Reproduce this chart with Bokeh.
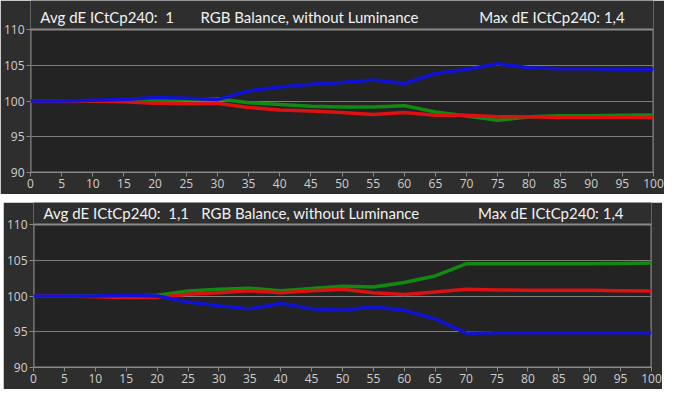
from bokeh.plotting import figure
from bokeh.models import FixedTicker
from bokeh.core.properties import value
from bokeh.layouts import column
from bokeh.embed import file_html
from bokeh.resources import INLINE

# gray levels (% of stimulus)
levels = [0, 5, 10, 15, 20, 25, 30, 35, 40, 45, 50, 55, 60, 65, 70, 75, 80, 85, 90, 95, 100]

# upper chart
top_red = [100, 100, 100, 99.9, 99.7, 99.6, 99.7, 99.1, 98.75, 98.6, 98.4, 98.1, 98.4, 98.0,
           98.0, 97.8, 97.8, 97.7, 97.7, 97.7, 97.7]
top_green = [100, 100, 100, 100, 100.1, 100.2, 100.3, 99.75, 99.5, 99.25, 99.15, 99.15, 99.35,
             98.45, 97.9, 97.3, 97.8, 97.95, 97.95, 98.0, 98.05]
top_blue = [100, 100, 100.1, 100.2, 100.5, 100.4, 100.2, 101.4, 101.95, 102.35, 102.6, 102.95,
            102.45, 103.85, 104.4, 105.2, 104.65, 104.5, 104.5, 104.45, 104.45]
top_avg = "Avg dE ICtCp240:\u00a0\u00a01"
top_max = "Max dE ICtCp240: 1,4"

# lower chart
bot_red = [100, 100, 99.9, 99.8, 99.8, 100.25, 100.45, 100.75, 100.45, 100.75, 100.95, 100.45,
           100.2, 100.55, 100.95, 100.85, 100.8, 100.8, 100.8, 100.75, 100.7]
bot_green = [100, 100, 100, 100, 100.1, 100.7, 100.95, 101.1, 100.75, 101.05, 101.35, 101.25,
             101.9, 102.8, 104.5, 104.5, 104.5, 104.5, 104.5, 104.55, 104.6]
bot_blue = [100, 100, 100, 100.1, 100, 99.15, 98.65, 98.2, 98.95, 98.2, 98.0, 98.5, 98.0,
            96.8, 94.8, 94.85, 94.85, 94.85, 94.85, 94.85, 94.85]
bot_avg = "Avg dE ICtCp240:\u00a0\u00a01,1"
bot_max = "Max dE ICtCp240: 1,4"

chart_title = "RGB Balance, without Luminance"
x_ticks = list(range(0, 101, 5))
y_ticks = [90, 95, 100, 105, 110]

FONT = "Open Sans"
TITLE_FONT = "Lato"
PANEL_BG = "#2e2e2e"
PLOT_BG = "#232323"
FRAME = "#8a8a8a"
PLOT_PX = 143      # height of the 90..110 plot area in pixels


def balance_chart(red, green, blue, avg_text, max_text, width, height,
                  border_left, border_right, band_px, title_px):
    # the frame is stretched upwards so the header texts live inside it
    frame_h = height - 22
    units_per_px = 20.0 / PLOT_PX
    y_top = 90 + frame_h * units_per_px
    title_y = 110 + (band_px - title_px) * units_per_px

    p = figure(width=width, height=height,
               x_range=(0, 100), y_range=(90, y_top),
               output_backend="svg", toolbar_location=None,
               min_border_left=border_left, min_border_right=border_right,
               min_border_top=0, min_border_bottom=22)

    p.background_fill_color = PANEL_BG
    p.border_fill_color = PANEL_BG
    p.outline_line_color = None

    # dark plot area with its gray frame
    p.quad(left=0, right=100, bottom=90, top=110, fill_color=PLOT_BG,
           line_color=FRAME, line_width=2, level="image")

    p.xgrid.visible = False
    p.ygrid.ticker = FixedTicker(ticks=[95, 100, 105])
    p.ygrid.grid_line_color = "#7c7c7c"
    p.ygrid.grid_line_width = 1

    p.xaxis.ticker = FixedTicker(ticks=x_ticks)
    p.yaxis.ticker = FixedTicker(ticks=y_ticks)
    for ax in (p.xaxis, p.yaxis):
        ax.axis_line_color = FRAME
        ax.major_tick_line_color = FRAME
        ax.major_tick_in = 0
        ax.major_tick_out = 4
        ax.minor_tick_line_color = None
        ax.major_label_text_color = "#cfcfcf"
        ax.major_label_text_font = FONT
        ax.major_label_text_font_size = "12px"
        ax.major_label_standoff = 2
    p.yaxis.axis_line_color = None

    p.line(levels, green, line_color="#128a12", line_width=3.5)
    p.line(levels, red, line_color="#dc1212", line_width=3.5)
    p.line(levels, blue, line_color="#1212d4", line_width=3.5)

    frame_w = width - border_left - border_right
    for txt, xpos, align in ((avg_text, 1000.0 / frame_w, "left"),
                             (chart_title, 44.8, "center"),
                             (max_text, 83.7, "center")):
        p.text(x=[xpos], y=[title_y], text=[txt], text_align=align,
               text_baseline="middle", text_color="#f2f2f2",
               text_font=value(TITLE_FONT), text_font_size="15px")
    return p


p1 = balance_chart(top_red, top_green, top_blue, top_avg, top_max,
                   664, 194, 22, 11, 28, 15)
p2 = balance_chart(bot_red, bot_green, bot_blue, bot_avg, bot_max,
                   659, 187, 24, 10, 21, 9)
p2.margin = (0, 2, 0, 3)

p = column(p1, p2, spacing=8)
p.styles = {"background-color": "white"}

open("out.html", "w").write(file_html(p, INLINE))
